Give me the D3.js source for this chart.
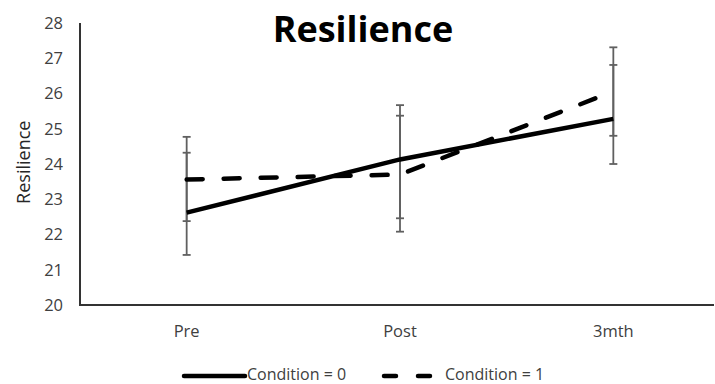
<!DOCTYPE html>
<html>
<head>
<meta charset="utf-8">
<script src="https://cdn.jsdelivr.net/npm/d3@7"></script>
<style>
  body { margin: 0; background: #fff; }
  text { font-family: "Open Sans", sans-serif; }
</style>
</head>
<body>
<div id="chart"></div>
<script>
// chart data
const categories = ["Pre", "Post", "3mth"];
const yTicks = [20, 21, 22, 23, 24, 25, 26, 27, 28];
const cond0 = [22.62, 24.13, 25.28];
const cond1 = [23.56, 23.70, 26.06];
// error bar ends (low / high)
const cond0Low = [21.42, 22.46, 24.00];
const cond0High = [24.32, 25.67, 26.81];
const cond1Low = [22.38, 22.08, 24.80];
const cond1High = [24.77, 25.37, 27.31];
const seriesNames = ["Condition = 0", "Condition = 1"];

const width = 715, height = 384;
const svg = d3.select("#chart").append("svg")
  .attr("width", width).attr("height", height);

const x = d3.scalePoint().domain(categories).range([80, 720]).padding(0.5);
const y = d3.scaleLinear().domain([20, 28]).range([305, 23]);

// axes lines
svg.append("line")
  .attr("x1", 80).attr("x2", 80).attr("y1", y(28)).attr("y2", y(20))
  .attr("stroke", "#333").attr("stroke-width", 2);
svg.append("line")
  .attr("x1", 79).attr("x2", 714).attr("y1", y(20)).attr("y2", y(20))
  .attr("stroke", "#333").attr("stroke-width", 2);

// y tick labels
svg.selectAll(".ytick").data(yTicks).enter().append("text")
  .attr("class", "ytick")
  .attr("x", 63).attr("y", d => y(d)).attr("dy", "0.35em")
  .attr("text-anchor", "end")
  .attr("font-size", 16.5).attr("fill", "#404040")
  .text(d => d);

// x labels
svg.selectAll(".xlab").data(categories).enter().append("text")
  .attr("class", "xlab")
  .attr("x", d => x(d)).attr("y", 331).attr("dy", "0.35em")
  .attr("text-anchor", "middle")
  .attr("font-size", 16.5).attr("fill", "#404040")
  .text(d => d);

// y axis title
svg.append("text")
  .attr("transform", "translate(24," + y(24.05) + ") rotate(-90)")
  .attr("dy", "0.35em")
  .attr("text-anchor", "middle")
  .attr("font-size", 18).attr("fill", "#262626")
  .text("Resilience");

// title
svg.append("text")
  .attr("x", 363).attr("y", 42)
  .attr("text-anchor", "middle")
  .attr("font-size", 36).attr("font-weight", "bold").attr("fill", "#000")
  .text("Resilience");

// error bars
function errBars(low, high) {
  const g = svg.append("g").attr("stroke", "#606060").attr("stroke-width", 1.8);
  categories.forEach((c, i) => {
    const cx = x(c);
    g.append("line").attr("x1", cx).attr("x2", cx).attr("y1", y(low[i])).attr("y2", y(high[i]));
    g.append("line").attr("x1", cx - 4).attr("x2", cx + 4).attr("y1", y(low[i])).attr("y2", y(low[i]));
    g.append("line").attr("x1", cx - 4).attr("x2", cx + 4).attr("y1", y(high[i])).attr("y2", y(high[i]));
  });
}
errBars(cond0Low, cond0High);
errBars(cond1Low, cond1High);

const line = d3.line()
  .x((d, i) => x(categories[i]))
  .y(d => y(d));

svg.append("path")
  .attr("d", line(cond0))
  .attr("fill", "none").attr("stroke", "#000").attr("stroke-width", 4.5);

svg.append("path")
  .attr("d", line(cond1))
  .attr("fill", "none").attr("stroke", "#000").attr("stroke-width", 4.5)
  .attr("stroke-linecap", "round")
  .attr("stroke-dasharray", "16,21");

// legend
const ly = 374;
const lg = svg.append("g");
lg.append("line").attr("x1", 184).attr("x2", 245).attr("y1", ly + 2).attr("y2", ly + 2)
  .attr("stroke", "#000").attr("stroke-width", 4.5).attr("stroke-linecap", "round");
lg.append("text").attr("x", 247).attr("y", ly).attr("dy", "0.35em")
  .attr("font-size", 16).attr("fill", "#404040").text(seriesNames[0]);
lg.append("line").attr("x1", 384).attr("x2", 433).attr("y1", ly + 2).attr("y2", ly + 2)
  .attr("stroke", "#000").attr("stroke-width", 4.5).attr("stroke-linecap", "round")
  .attr("stroke-dasharray", "12,22");
lg.append("text").attr("x", 445).attr("y", ly).attr("dy", "0.35em")
  .attr("font-size", 16).attr("fill", "#404040").text(seriesNames[1]);
</script>
</body>
</html>
